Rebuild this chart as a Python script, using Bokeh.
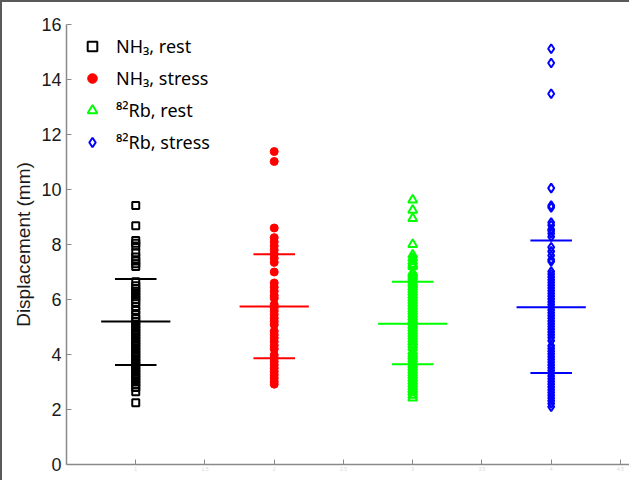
from bokeh.plotting import figure
from bokeh.models import FixedTicker, Legend, LegendItem, Range1d
from bokeh.embed import file_html
from bokeh.resources import INLINE

# ---- data ----
group_pos = [1, 2, 3, 4]
series_labels = ["NH\u2083, rest", "NH\u2083, stress", "\u2078\u00b2Rb, rest", "\u2078\u00b2Rb, stress"]
series_colors = ["#000000", "#ff0000", "#00ff00", "#0000ff"]

nh3_rest = [9.42, 8.68, 8.15, 8.05, 7.95, 7.7, 7.55, 7.4, 7.3, 7.2, 6.65, 6.5, 6.4,
            6.3, 6.2, 6.1, 6.0, 5.9, 5.75, 5.6, 5.45, 5.3, 5.2, 5.1, 5.0, 4.9, 4.8,
            4.7, 4.6, 4.5, 4.4, 4.3, 4.2, 4.1, 4.0, 3.9, 3.8, 3.7, 3.6, 3.5, 3.4,
            3.3, 3.2, 3.1, 3.0, 2.9, 2.8, 2.65, 2.25]
nh3_stress = [11.38, 11.02, 8.6, 8.25, 8.1, 7.95, 7.8, 7.65, 7.5, 7.35, 7.0,
              6.6, 6.45, 6.3, 6.15, 6.05, 5.82, 5.7, 5.58, 5.45, 5.32, 5.2, 5.08,
              4.85, 4.72, 4.6, 4.47, 4.33, 4.2, 3.98, 3.86, 3.74, 3.62, 3.5, 3.38,
              3.26, 3.14, 3.02, 2.92]
rb_rest = [9.62, 9.25, 8.95, 8.0, 7.62, 7.5, 7.38, 7.28, 7.2, 6.98, 6.9, 6.82, 6.72,
           6.62, 6.55, 6.45, 6.35, 6.25, 6.15, 6.05, 5.95, 5.85, 5.75, 5.65, 5.55,
           5.45, 5.35, 5.25, 5.15, 5.05, 4.95, 4.85, 4.75, 4.65, 4.55, 4.45, 4.35,
           4.25, 4.1, 4.0, 3.92, 3.82, 3.72, 3.62, 3.52, 3.42, 3.32, 3.22, 3.12,
           3.02, 2.92, 2.82, 2.72, 2.62, 2.52, 2.42]
rb_stress = [15.12, 14.6, 13.48, 10.05, 9.42, 9.35, 8.8, 8.7, 8.55, 8.5, 8.4, 8.28,
             7.9, 7.75, 7.6, 7.45, 7.38, 7.02, 6.92, 6.82, 6.72, 6.62, 6.52, 6.42,
             6.32, 6.22, 6.12, 6.02, 5.92, 5.82, 5.72, 5.62, 5.52, 5.42, 5.32, 5.22,
             5.12, 5.02, 4.92, 4.82, 4.72, 4.62, 4.5, 4.32, 4.22, 4.12, 4.02, 3.92,
             3.82, 3.72, 3.62, 3.52, 3.42, 3.32, 3.22, 3.12, 3.02, 2.92, 2.82, 2.72,
             2.62, 2.52, 2.42, 2.32, 2.22, 2.1]

means = [5.2, 5.75, 5.12, 5.72]
upper_sd = [6.75, 7.65, 6.65, 8.15]
lower_sd = [3.62, 3.86, 3.65, 3.33]

y_ticks = [0, 2, 4, 6, 8, 10, 12, 14, 16]
x_ticks = [1, 1.5, 2, 2.5, 3, 3.5, 4, 4.5]

# ---- styles ----
FONT = "Liberation Sans"
mean_half = 0.25
sd_half = 0.15

p = figure(width=629, height=480, output_backend="svg", toolbar_location=None,
           x_range=Range1d(0.5, 4.58), y_range=Range1d(0, 16),
           min_border_left=64, min_border_top=22, min_border_bottom=18,
           min_border_right=0)
p.styles = {"border-left": "2px solid #5a5a5a", "border-top": "2px solid #5a5a5a"}
p.outline_line_color = None
p.grid.visible = False
p.background_fill_color = "white"

all_series = [nh3_rest, nh3_stress, rb_rest, rb_stress]
markers = ["square", "circle", "triangle", "diamond"]
sizes = [7, 8, 9, 9]
items = []
for i, vals in enumerate(all_series):
    xs = [group_pos[i]] * len(vals)
    c = series_colors[i]
    if markers[i] == "circle":
        r = p.scatter(xs, vals, marker="circle", size=sizes[i], fill_color=c, line_color=c)
    else:
        r = p.scatter(xs, vals, marker=markers[i], size=sizes[i], fill_color=None,
                      line_color=c, line_width=2)
    items.append(LegendItem(label=series_labels[i], renderers=[r]))

for i, g in enumerate(group_pos):
    c = series_colors[i]
    p.segment(x0=[g - mean_half], x1=[g + mean_half], y0=[means[i]], y1=[means[i]],
              line_color=c, line_width=2)
    p.segment(x0=[g - sd_half, g - sd_half], x1=[g + sd_half, g + sd_half],
              y0=[upper_sd[i], lower_sd[i]], y1=[upper_sd[i], lower_sd[i]],
              line_color=c, line_width=2)

legend = Legend(items=items, location="top_left", margin=10, padding=12,
                glyph_width=32, glyph_height=24, label_height=24, spacing=8,
                label_standoff=8, label_text_font="Noto Sans", label_text_font_size="18px",
                label_text_color="#000000", border_line_color=None,
                background_fill_alpha=0)
p.add_layout(legend)

# axes
for ax in (p.xaxis[0], p.yaxis[0]):
    ax.axis_line_color = "#8a8a8a"
    ax.axis_line_width = 1.5
    ax.major_tick_line_color = "#8a8a8a"
    ax.major_tick_in = 5
    ax.major_tick_out = 0
    ax.minor_tick_line_color = None

p.yaxis.ticker = FixedTicker(ticks=y_ticks)
p.yaxis.major_label_text_font = FONT
p.yaxis.major_label_text_font_size = "18px"
p.yaxis.major_label_text_color = "#1a1a1a"
p.yaxis.major_label_standoff = 5
p.yaxis.axis_label = "Displacement (mm)"
p.yaxis.axis_label_text_font = FONT
p.yaxis.axis_label_text_font_size = "19px"
p.yaxis.axis_label_text_font_style = "normal"
p.yaxis.axis_label_text_color = "#1a1a1a"
p.yaxis.axis_label_standoff = 4

p.xaxis.ticker = FixedTicker(ticks=x_ticks)
p.xaxis.major_label_text_font = FONT
p.xaxis.major_label_text_font_size = "5px"
p.xaxis.major_label_text_color = "#d8d8d8"
p.xaxis.major_label_standoff = 2

open("out.html", "w").write(file_html(p, INLINE))
